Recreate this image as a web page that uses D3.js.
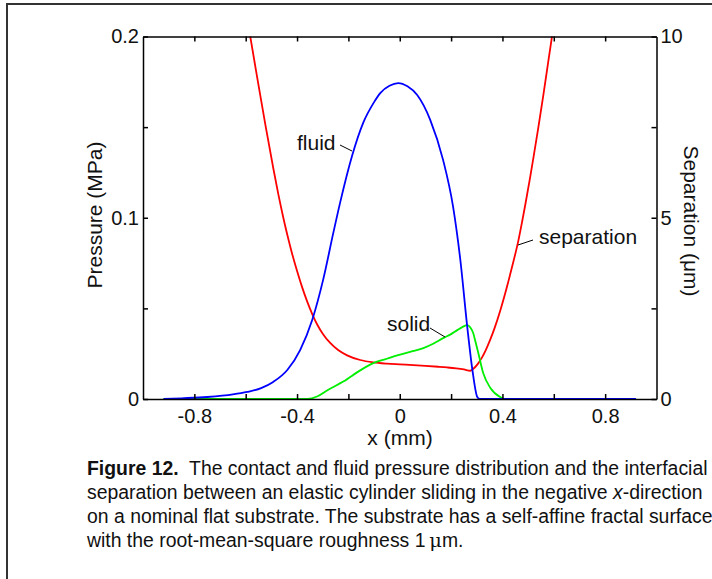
<!DOCTYPE html>
<html lang="en">
<head>
<meta charset="utf-8">
<title>Figure 12</title>
<script src="https://d3js.org/d3.v7.min.js"></script>
<style>
  body { margin: 0; background: #fff; font-family: "Liberation Sans", Arial, Helvetica, sans-serif; }
  svg text { fill: #111; }
  .axis path, .axis line { stroke: #000; stroke-width: 1.5; }
  .axis text { font-size: 20px; font-family: "Liberation Sans", Arial, sans-serif; fill: #111; }
  .caption { font-size: 19.4px; }
</style>
</head>
<body>
<div id="chart"></div>
<script>
// x positions (mm) and values
var fluidX = [-0.92, -0.85, -0.75, -0.65, -0.594, -0.54, -0.493, -0.438, -0.388, -0.341, -0.298, -0.259, -0.232, -0.185, -0.142, -0.1, -0.076, -0.04, -0.006, 0.03, 0.068, 0.119, 0.169, 0.208, 0.236, 0.263, 0.283, 0.302, 0.312, 0.5, 0.7, 0.92]
var fluidP = [0, 0.0004, 0.0011, 0.0025, 0.0039, 0.006, 0.0094, 0.016, 0.027, 0.0436, 0.066, 0.0915, 0.1085, 0.1345, 0.1525, 0.1638, 0.1688, 0.1728, 0.1743, 0.1725, 0.1677, 0.1539, 0.1318, 0.1059, 0.0767, 0.0397, 0.016, 0.0011, 0, 0, 0, 0]

var solidX = [-0.92, -0.6, -0.4, -0.36, -0.32, -0.28, -0.22, -0.154, -0.103, -0.05, -0.01, 0.05, 0.092, 0.13, 0.169, 0.2, 0.224, 0.245, 0.263, 0.275, 0.286, 0.296, 0.306, 0.325, 0.353, 0.391, 0.41, 0.6, 0.92]
var solidP = [0, 0, 0, 0, 0.0015, 0.005, 0.0096, 0.0158, 0.0198, 0.0222, 0.0241, 0.0264, 0.0281, 0.0305, 0.0336, 0.0358, 0.038, 0.0398, 0.0408, 0.0395, 0.0364, 0.031, 0.0254, 0.0143, 0.0061, 0.0011, 0, 0, 0]

var sepX = [-0.583, -0.556, -0.524, -0.492, -0.473, -0.455, -0.438, -0.42, -0.399, -0.38, -0.36, -0.34, -0.321, -0.3, -0.271, -0.24, -0.205, -0.154, -0.103, -0.05, 0, 0.053, 0.1, 0.15, 0.185, 0.22, 0.25, 0.275, 0.29, 0.305, 0.32, 0.335, 0.352, 0.37, 0.391, 0.415, 0.438, 0.462, 0.476, 0.49, 0.508, 0.521, 0.54, 0.56, 0.58, 0.6]
var sepUm = [10.03, 8.9, 7.59, 6.345, 5.65, 5.05, 4.53, 4.03, 3.508, 3.08, 2.68, 2.33, 2.049, 1.801, 1.546, 1.351, 1.204, 1.076, 1.01, 0.975, 0.955, 0.935, 0.915, 0.89, 0.87, 0.845, 0.815, 0.78, 0.855, 0.975, 1.14, 1.35, 1.63, 1.97, 2.43, 3.03, 3.66, 4.37, 4.87, 5.4, 6.12, 6.67, 7.5, 8.42, 9.38, 10.34]

var xTicks = [-0.8, -0.6, -0.4, -0.2, 0, 0.2, 0.4, 0.6, 0.8]
var xLabels = [-0.8, -0.4, 0, 0.4, 0.8]
var pTicks = [0, 0.05, 0.1, 0.15, 0.2]
var pLabels = [0, 0.1, 0.2]
var sTicks = [0, 2.5, 5, 7.5, 10]
var sLabels = [0, 5, 10]

var captionLines = [
  [{t: "Figure 12.", b: true}, {t: "\u00a0 The contact and fluid pressure distribution and the interfacial"}],
  [{t: "separation between an elastic cylinder sliding in the negative "}, {t: "x", i: true}, {t: "-direction"}],
  [{t: "on a nominal flat substrate. The substrate has a self-affine fractal surface"}],
  [{t: "with the root-mean-square roughness 1\u2009"}, {t: "\u03bc", g: true}, {t: "m."}]
]

var W = 712, H = 579
var svg = d3.select("#chart").append("svg").attr("width", W).attr("height", H)

// frame
svg.append("path").attr("d", "M7,579 V4 H712").attr("fill", "none")
  .attr("stroke", "#333").attr("stroke-width", 2)

var xScale = d3.scaleLinear().domain([-1, 1]).range([143, 656.5])
var yP = d3.scaleLinear().domain([0, 0.2]).range([399, 36.5])
var yS = d3.scaleLinear().domain([0, 10]).range([399, 36.5])

function fmt(arr) {
  return function(d) {
    var hit = arr.some(function(v) { return Math.abs(v - d) < 1e-9 })
    return hit ? String(d) : ""
  }
}

function zip(xs, ys) { return xs.map(function(x, i) { return [x, ys[i]] }) }

svg.append("clipPath").attr("id", "plotclip").append("rect")
  .attr("x", 143).attr("y", 36.5).attr("width", 656.5 - 143).attr("height", 399 - 36.5)

var g = svg.append("g").attr("clip-path", "url(#plotclip)")

var lineP = d3.line().x(function(d) { return xScale(d[0]) }).y(function(d) { return yP(d[1]) }).curve(d3.curveMonotoneX)
var lineS = d3.line().x(function(d) { return xScale(d[0]) }).y(function(d) { return yS(d[1]) }).curve(d3.curveMonotoneX)

g.append("path").datum(zip(sepX, sepUm)).attr("d", lineS)
  .attr("fill", "none").attr("stroke", "#ff0000").attr("stroke-width", 1.8)
g.append("path").datum(zip(solidX, solidP)).attr("d", lineP)
  .attr("fill", "none").attr("stroke", "#00ee00").attr("stroke-width", 1.8)
g.append("path").datum(zip(fluidX, fluidP)).attr("d", lineP)
  .attr("fill", "none").attr("stroke", "#0000ff").attr("stroke-width", 1.8)

// axes
svg.append("g").attr("class", "axis").attr("transform", "translate(0,399)")
  .call(d3.axisBottom(xScale).tickValues(xTicks).tickSizeInner(-5).tickSizeOuter(0).tickPadding(10).tickFormat(fmt(xLabels)))
svg.append("g").attr("class", "axis").attr("transform", "translate(0,36.5)")
  .call(d3.axisTop(xScale).tickValues(xTicks).tickSizeInner(-5).tickSizeOuter(0).tickFormat(""))
svg.append("g").attr("class", "axis").attr("transform", "translate(143,0)")
  .call(d3.axisLeft(yP).tickValues(pTicks).tickSizeInner(-5).tickSizeOuter(0).tickPadding(4).tickFormat(fmt(pLabels)))
svg.append("g").attr("class", "axis").attr("transform", "translate(656.5,0)")
  .call(d3.axisRight(yS).tickValues(sTicks).tickSizeInner(-5).tickSizeOuter(0).tickPadding(4).tickFormat(fmt(sLabels)))
svg.selectAll(".axis .domain").attr("stroke-width", 1.8)

// axis titles
svg.append("text").attr("x", 400).attr("y", 445).attr("text-anchor", "middle")
  .attr("font-size", 21).text("x (mm)")
svg.append("text").attr("transform", "translate(102,215) rotate(-90)").attr("text-anchor", "middle")
  .attr("font-size", 21).text("Pressure (MPa)")
svg.append("text").attr("transform", "translate(684,221) rotate(90)").attr("text-anchor", "middle")
  .attr("font-size", 21).text("Separation (\u03bcm)")

// curve labels with leader lines
var notes = [
  {text: "fluid", tx: 297, ty: 150, x1: 340, y1: 145, x2: 352, y2: 151},
  {text: "solid", tx: 387, ty: 331, x1: 430, y1: 328, x2: 445, y2: 337},
  {text: "separation", tx: 539, ty: 244, x1: 533, y1: 240, x2: 518, y2: 245}
]
notes.forEach(function(n) {
  svg.append("text").attr("x", n.tx).attr("y", n.ty).attr("font-size", 21).text(n.text)
  svg.append("line").attr("x1", n.x1).attr("y1", n.y1).attr("x2", n.x2).attr("y2", n.y2)
    .attr("stroke", "#000").attr("stroke-width", 1)
})

// caption
captionLines.forEach(function(parts, i) {
  var t = svg.append("text").attr("class", "caption").attr("x", 87).attr("y", 475 + i * 24)
  parts.forEach(function(p) {
    var s = t.append("tspan").text(p.t)
    if (p.b) s.attr("font-weight", "bold")
    if (p.i) s.attr("font-style", "italic")
    if (p.g) s.attr("font-family", "DejaVu Serif")
  })
})
</script>
</body>
</html>
